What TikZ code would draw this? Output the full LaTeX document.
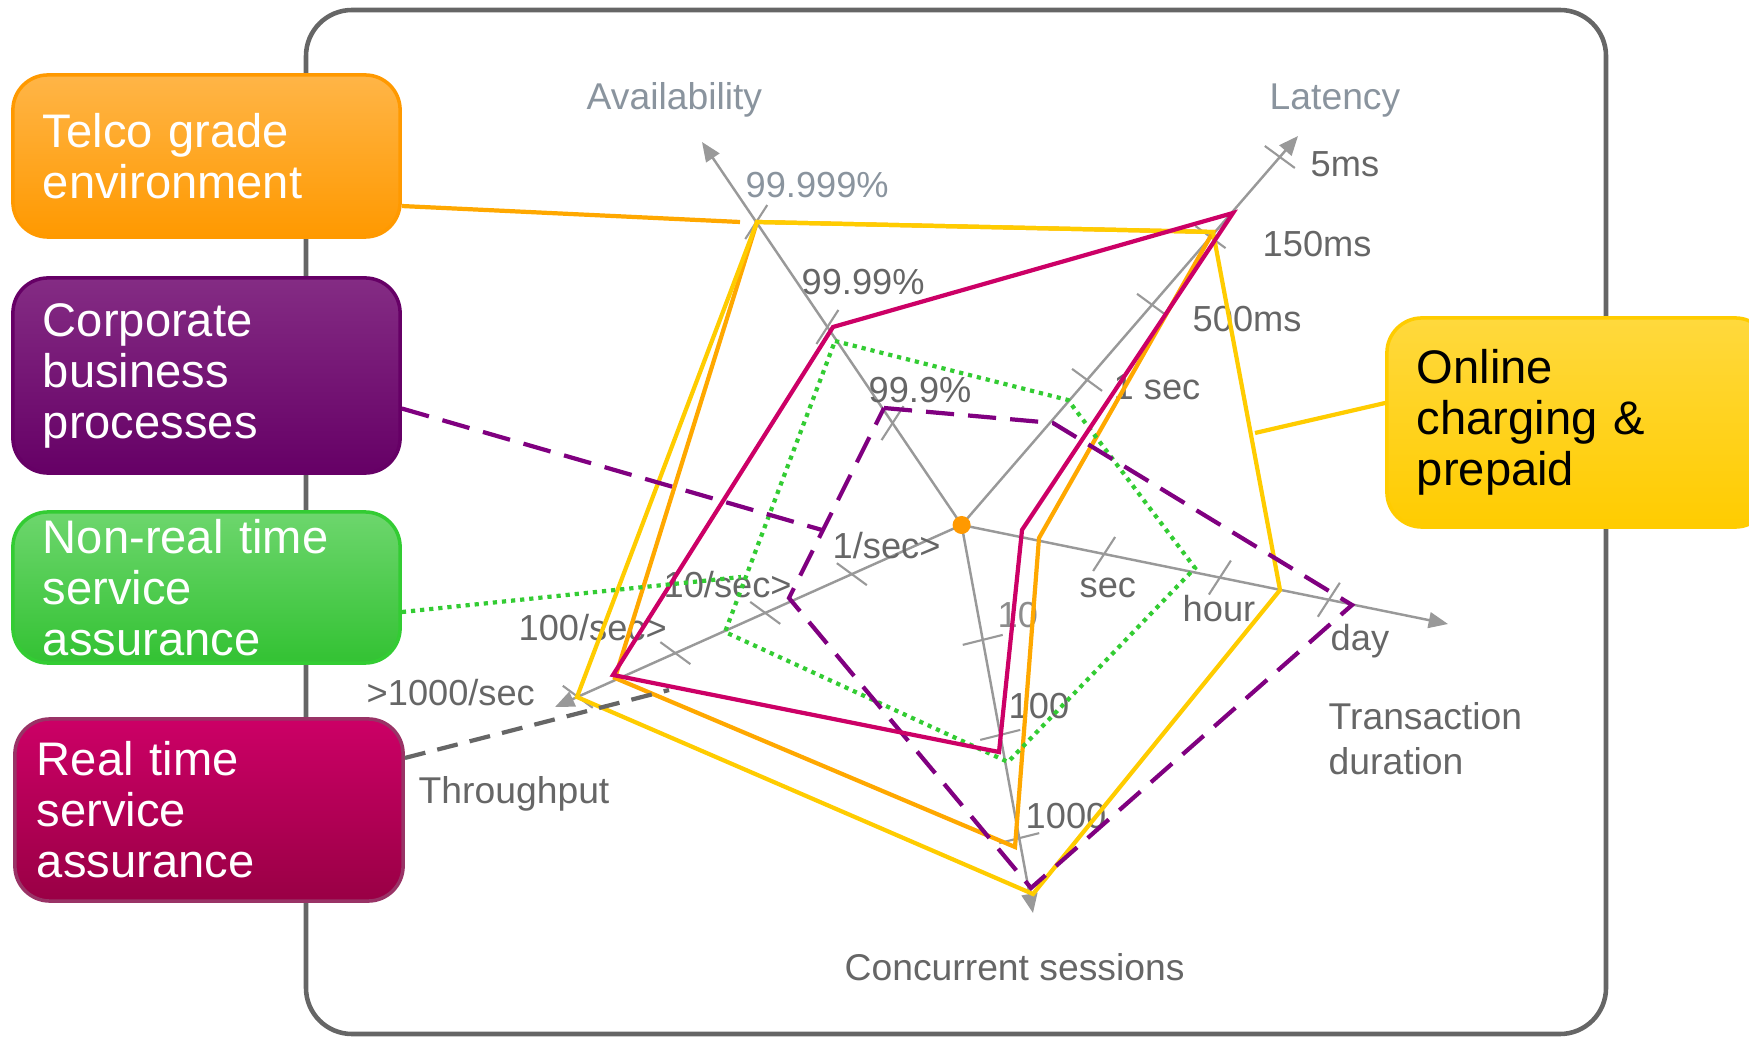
\documentclass[tikz,border=0pt]{standalone}
\usepackage{fontspec}
\setmainfont{Liberation Sans}
\usetikzlibrary{arrows.meta,calc}

\definecolor{framegray}{HTML}{666666}
\definecolor{axisgray}{HTML}{999999}
\definecolor{lblgray}{HTML}{666666}
\definecolor{ttlgray}{HTML}{8A949E}
\definecolor{lightlbl}{HTML}{8C8C8C}
\definecolor{telco}{HTML}{FFA800}
\definecolor{online}{HTML}{FFCC00}
\definecolor{realt}{HTML}{CC0066}
\definecolor{corp}{HTML}{800080}
\definecolor{nonrt}{HTML}{33CC33}
\definecolor{tgtop}{HTML}{FFB547}
\definecolor{tgbot}{HTML}{FF9900}
\definecolor{cbtop}{HTML}{842C84}
\definecolor{cbbot}{HTML}{660066}
\definecolor{nrtop}{HTML}{6DD66D}
\definecolor{nrbot}{HTML}{33C233}
\definecolor{rttop}{HTML}{CC0066}
\definecolor{rtbot}{HTML}{990045}
\definecolor{rtline}{HTML}{993366}
\definecolor{octop}{HTML}{FFD93D}
\definecolor{ocbot}{HTML}{FFCC00}

\begin{document}
\begin{tikzpicture}[x=0.01cm,y=-0.01cm,
  tagbox/.style={rounded corners=0.35cm, line width=1pt, align=left, inner ysep=0pt,
    font=\fontsize{13.4}{14.5}\selectfont},
  axisline/.style={draw=axisgray, line width=0.7pt, -{Triangle[length=5.5pt,width=4.5pt]}},
  tickmark/.style={draw=axisgray, line width=0.6pt},
  lbl/.style={inner sep=0pt, anchor=base west, text=lblgray, font=\fontsize{10.3}{12}\selectfont},
  ttl/.style={inner sep=0pt, anchor=base west, text=lblgray, font=\fontsize{10.6}{12.8}\selectfont},
  trace/.style={line width=1.2pt},
  dashline/.style={trace, dash pattern=on 8pt off 4pt},
  dotline/.style={trace, dash pattern=on 1.2pt off 1.4pt},
  dot/.style={circle, fill=tgbot, inner sep=0pt, minimum size=0.18cm}]
\useasboundingbox (0,0) rectangle (1749,1037);

% frame
\draw[framegray, line width=1.3pt, rounded corners=0.46cm] (306,10) rectangle (1606,1034);

% legend boxes
\node[tagbox, top color=tgtop, bottom color=tgbot, draw=tgbot, text=white,
  minimum width=3.87cm, minimum height=1.62cm, text width=3.27cm, inner xsep=0.3cm]
  (tg) at (206.5,156) {Telco grade\\environment};
\node[tagbox, top color=cbtop, bottom color=cbbot, draw=cbbot, text=white,
  minimum width=3.87cm, minimum height=1.95cm, text width=3.27cm, inner xsep=0.3cm]
  (cb) at (206.5,375.5) {Corporate\\business\\processes};
\node[tagbox, top color=nrtop, bottom color=nrbot, draw=nonrt, text=white,
  minimum width=3.87cm, minimum height=1.51cm, text width=3.27cm, inner xsep=0.3cm]
  (nr) at (206.5,587.5) {Non-real time\\service\\assurance};
\node[tagbox, top color=rttop, bottom color=rtbot, draw=rtline, text=white,
  minimum width=3.88cm, minimum height=1.82cm, text width=3.44cm, inner xsep=0.22cm]
  (rt) at (209,810) {Real time\\service\\assurance};
\node[tagbox, top color=octop, bottom color=ocbot, draw=ocbot, text=black,
  minimum width=3.83cm, minimum height=2.09cm, text width=3.23cm, inner xsep=0.3cm]
  (oc) at (1578.5,422.5) {Online\\charging \&\\prepaid};

% axes
\coordinate (O) at (961.6,525);
\coordinate (av) at (702,142);
\coordinate (la) at (1298,136);
\coordinate (td) at (1448,624);
\coordinate (cs) at (1033,913);
\coordinate (tp) at (555,707);
\foreach \a in {av,la,td,cs,tp}
  \draw[axisline] (O) -- (\a);

% ticks
\foreach \t in {0.266,0.517,0.791}
  \draw[tickmark] ($(O)!\t!(av)+(11,-17)$) -- ($(O)!\t!(av)-(11,-17)$);
\foreach \t in {0.373,0.566,0.740,0.946}
  \draw[tickmark] ($(O)!\t!(la)+(15,11)$) -- ($(O)!\t!(la)-(15,11)$);
\foreach \t in {0.293,0.531,0.755}
  \draw[tickmark] ($(O)!\t!(td)+(11,-17)$) -- ($(O)!\t!(td)-(11,-17)$);
\foreach \t in {0.296,0.541,0.807}
  \draw[tickmark] ($(O)!\t!(cs)+(20,-5)$) -- ($(O)!\t!(cs)-(20,-5)$);
\foreach \t in {0.27,0.483,0.704,0.944}
  \draw[tickmark] ($(O)!\t!(tp)+(15,11)$) -- ($(O)!\t!(tp)-(15,11)$);

% axis titles
\node[ttl, text=ttlgray] (avt) at (586,110) {Availability};
\node[ttl, text=ttlgray] (lat) at (1269,110) {Latency};
\node[ttl, anchor=north west, align=left] (tdt) at (1328,702) {Transaction\\duration};
\node[ttl] (cst) at (844,980) {Concurrent sessions};
\node[ttl] (tpt) at (418,803) {Throughput};

% tick labels
\node[lbl, text=ttlgray] (av1) at (745,198) {99.999\%};
\node[lbl] (av2) at (801,295) {99.99\%};
\node[lbl] (av3) at (868,403) {99.9\%};
\node[lbl] (la1) at (1310,177) {5ms};
\node[lbl] (la2) at (1262,257) {150ms};
\node[lbl] (la3) at (1192,332) {500ms};
\node[lbl] (la4) at (1113,400) {1 sec};
\node[lbl] (td1) at (1079,597) {sec};
\node[lbl] (td2) at (1182,621) {hour};
\node[lbl] (td3) at (1330,650) {day};
\node[lbl, text=lightlbl] (cs1) at (997,627) {10};
\node[lbl] (cs2) at (1008,718) {100};
\node[lbl] (cs3) at (1025,828) {1000};
\node[lbl] (tp1) at (832,558) {1/sec>};
\node[lbl] (tp2) at (663,597) {10/sec>};
\node[lbl] (tp3) at (518,640) {100/sec>};
\node[lbl] (tp4) at (366,705) {>1000/sec};

% profiles
\draw[trace, telco] (757,222) -- (1213,232) -- (1039,538) -- (1015,847) -- (615,678) -- cycle;
\draw[trace, online] (757,222) -- (1213,232) -- (1280,590) -- (1033,894) -- (577,697) -- cycle;
\draw[dotline, nonrt] (835,341) -- (1068,400) -- (1195,568) -- (1008,762) -- (725,632) -- cycle;
\draw[dashline, corp] (884,408) -- (1053,423) -- (1352,605) -- (1031,888) -- (789,598) -- cycle;
\draw[trace, realt] (833,327) -- (1233,213) -- (1022,530) -- (999,752) -- (613,675) -- cycle;

% connectors
\coordinate (tg-end) at (740,222);
\coordinate (cb-end) at (822,530);
\coordinate (nr-end) at (741,577);
\coordinate (rt-end) at (669,690);
\coordinate (oc-end) at (1255,433);
\draw[trace, telco] ([yshift=-0.5cm]tg.east) -- (tg-end);
\draw[dashline, corp] ([yshift=-0.33cm]cb.east) -- (cb-end);
\draw[dotline, nonrt] ([yshift=-0.245cm]nr.east) -- (nr-end);
\draw[trace, framegray, dash pattern=on 6pt off 3.5pt] ([yshift=0.52cm]rt.east) -- (rt-end);
\draw[trace, online] ([yshift=0.195cm]oc.west) -- (oc-end);

\node[dot] (ctr) at (O) {};
\end{tikzpicture}
\end{document}
